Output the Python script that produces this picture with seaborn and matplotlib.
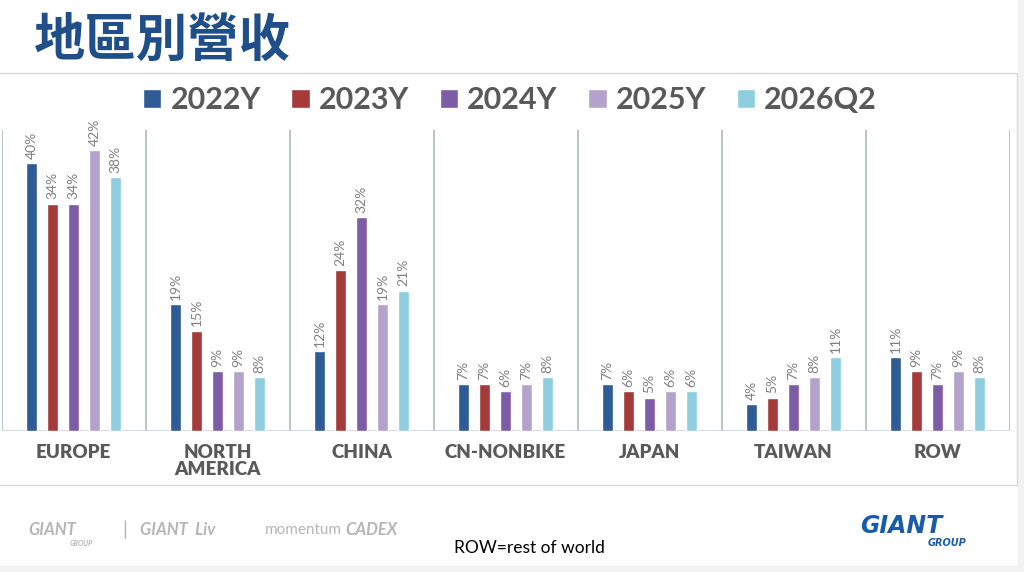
import matplotlib
matplotlib.use("Agg")
import matplotlib.pyplot as plt
from matplotlib.patches import Rectangle
from matplotlib.lines import Line2D
import pandas as pd
import seaborn as sns

regions = ["EUROPE", "NORTH\nAMERICA", "CHINA", "CN-NONBIKE", "JAPAN", "TAIWAN", "ROW"]
years = ["2022Y", "2023Y", "2024Y", "2025Y", "2026Q2"]
v2022 = [40, 19, 12, 7, 7, 4, 11]
v2023 = [34, 15, 24, 7, 6, 5, 9]
v2024 = [34, 9, 32, 6, 5, 7, 7]
v2025 = [42, 9, 19, 7, 6, 8, 9]
v2026 = [38, 8, 21, 8, 6, 11, 8]
colors = ["#2F5C95", "#A43A3A", "#7D5CA6", "#B3A2CC", "#8ECEDF"]

series = [v2022, v2023, v2024, v2025, v2026]
df = pd.DataFrame({
    "region": regions * len(years),
    "year": [y for y in years for _ in regions],
    "value": [v for s in series for v in s],
})

sns.set_style("white")
plt.rcParams["font.family"] = ["Lato", "DejaVu Sans"]

W, H = 1024, 572
fig = plt.figure(figsize=(W / 100, H / 100), dpi=100)

# background panels / frame
fig.patches.append(Rectangle((1018 / W, 0), 1, 1, transform=fig.transFigure,
                             color="#F2F2F2", zorder=0))
fig.patches.append(Rectangle((0, 0), 1, (H - 566) / H, transform=fig.transFigure,
                             color="#F2F2F2", zorder=0))
frame = "#D9D9D9"
fig.add_artist(Line2D([0, 1017 / W], [1 - 73 / H] * 2, color=frame, lw=1))
fig.add_artist(Line2D([1017 / W] * 2, [1 - 73 / H, 1 - 485 / H], color=frame, lw=1))
fig.add_artist(Line2D([0, 1017 / W], [1 - 485 / H] * 2, color=frame, lw=1))

ax = fig.add_axes([1.5 / W, (H - 431) / H, 1008 / W, 301 / H])
sns.barplot(data=df, x="region", y="value", hue="year", palette=colors,
            width=0.73, gap=0.48, ax=ax, saturation=1, legend=True)

for cont, s in zip(ax.containers, series):
    ax.bar_label(cont, labels=[f"{v}%" for v in s], rotation=90, padding=3,
                 color="#808080", fontsize=10, family=["Lato", "DejaVu Sans"])

ax.set_xlim(-0.5, len(regions) - 0.5)
ax.set_ylim(0, 45)
ax.vlines([i - 0.5 for i in range(len(regions) + 1)], 0, 45,
          color="#9FB5D0", lw=1.1, zorder=0)
ax.axhline(0, color="#C8D5E4", lw=1.2, zorder=0)
for sp in ax.spines.values():
    sp.set_visible(False)
ax.set_yticks([])
ax.set_xlabel("")
ax.set_ylabel("")
ax.tick_params(axis="x", length=0, pad=9)
for t in ax.get_xticklabels():
    t.set_family(["Lato", "DejaVu Sans"])
    t.set_fontweight("heavy")
    t.set_fontsize(13.5)
    t.set_color("#595959")
    t.set_linespacing(1.05)
ax.set_facecolor("none")

handles, labels = ax.get_legend_handles_labels()
ax.get_legend().remove()
fig.legend(handles, labels, ncol=5, loc="center", bbox_to_anchor=(510 / W, 1 - 100 / H),
           frameon=False, prop={"family": "Lato", "weight": "bold", "size": 22},
           labelcolor="#595959", handlelength=0.6, handleheight=0.6,
           handletextpad=0.3, columnspacing=1.0)

fig.text(34 / W, 1 - 40 / H, "地區別營收", fontsize=37, fontweight="bold",
         family=["Noto Sans CJK TC", "DejaVu Sans"], color="#1F4E88", va="center")

# footer
gray = "#B5B5B5"
fig.text(28 / W, 1 - 530 / H, "GIANT", fontsize=12, fontweight="bold", style="italic",
         color=gray, va="center")
fig.text(70 / W, 1 - 544 / H, "GROUP", fontsize=5, fontweight="bold", style="italic",
         color=gray, va="center")
fig.text(122 / W, 1 - 530 / H, "|", fontsize=14, color=gray, va="center")
fig.text(140 / W, 1 - 530 / H, "GIANT  Liv", fontsize=12, fontweight="bold", style="italic",
         color=gray, va="center")
fig.text(265 / W, 1 - 530 / H, "momentum", fontsize=11, color=gray, va="center")
fig.text(345 / W, 1 - 530 / H, "CADEX", fontsize=12, fontweight="bold", style="italic",
         color=gray, va="center")
fig.text(454 / W, 1 - 548 / H, "ROW=rest of world", fontsize=12.5,
         family=["Lato", "DejaVu Sans"], color="black", va="center")
fig.text(860 / W, 1 - 526 / H, "GIANT", fontsize=17, fontweight="black", style="italic",
         color="#1A5BA8", va="center", family=["DejaVu Sans"])
fig.text(928 / W, 1 - 543 / H, "GROUP", fontsize=7, fontweight="bold", style="italic",
         color="#1A5BA8", va="center", family=["DejaVu Sans"])

fig.savefig("out.png", dpi=100)
